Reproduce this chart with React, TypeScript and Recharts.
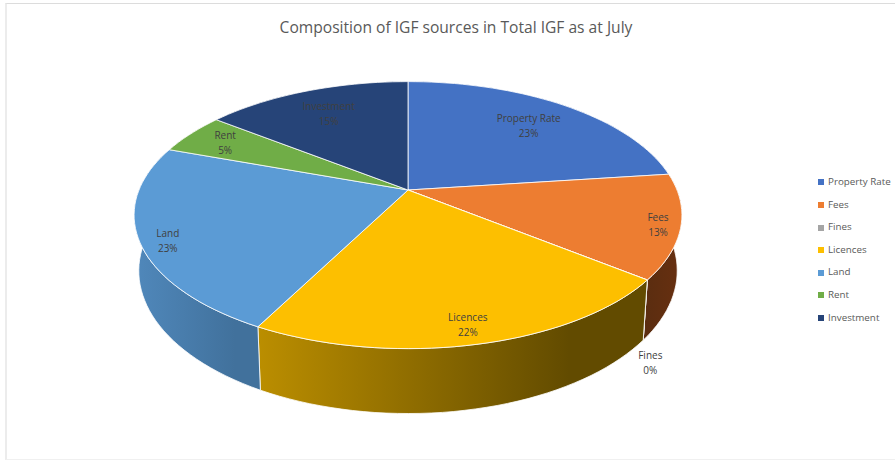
import { PieChart, Pie, Legend } from 'recharts';

const sourceNames = ['Property Rate', 'Fees', 'Fines', 'Licences', 'Land', 'Rent', 'Investment'];
const sharePercent = [23, 12.6, 0, 22.1, 22.7, 5, 14.6];
const sliceColors = ['#4472c4', '#ed7d31', '#a5a5a5', '#fdbf00', '#5b9bd5', '#70ad47', '#264478'];

// side wall shades, left to right, per slice
const wallShades = [
  ['#2f5597', '#2f5597'],
  ['#5a2d10', '#652f10'],
  ['#6e6e6e', '#6e6e6e'],
  ['#bb8e00', '#624b00'],
  ['#5088bb', '#41719c'],
  ['#4e7a32', '#4e7a32'],
  ['#1b3156', '#1b3156'],
];

// how far out each label sits, as a share of the radius, and its nudge in px
const labelReach = [0.75, 0.92, 1, 0.89, 0.9, 0.85, 0.75];
const labelNudgeX = [0, 0, 3, 0, 0, 4, 0];
const labelNudgeY = [1, 1, 82, 0, 5, 0, 0];

const chartData = sourceNames.map((name, i) => ({ name, value: sharePercent[i], fill: sliceColors[i] }));

const FONT = '"Open Sans", "Noto Sans", sans-serif';
const CX = 408;
const CY = 190;
const RADIUS = 269;
const TILT = 128.3 / 268;
const PERSPECTIVE = -0.188;

// tilted disc: unit circle through a perspective divide so the apex sits off centre
function rimPoint(cx: number, cy: number, r: number, angle: number, reach = 1) {
  const rad = (angle * Math.PI) / 180;
  const u = Math.cos(rad) * reach;
  const v = -Math.sin(rad) * reach;
  const w = 1 + PERSPECTIVE * v;
  return { x: cx + (r * u) / w, y: cy + (r * TILT * v) / w };
}

// lower edge of the disc, slightly narrower because of the perspective
function dropPoint(p: { x: number; y: number }, cx: number) {
  return { x: cx + (p.x - cx) * 0.983, y: p.y + 60 + 0.07 * (p.y - 278) };
}

function arcPoints(props: any) {
  const { cx, cy, outerRadius, startAngle, endAngle } = props;
  const pts = [];
  const steps = Math.max(2, Math.ceil(Math.abs(endAngle - startAngle) / 2));
  for (let i = 0; i <= steps; i++) {
    pts.push(rimPoint(cx, cy, outerRadius, startAngle + ((endAngle - startAngle) * i) / steps));
  }
  return pts;
}

const toPath = (pts: { x: number; y: number }[]) =>
  pts.map((p, i) => `${i ? 'L' : 'M'}${p.x.toFixed(1)},${p.y.toFixed(1)}`).join(' ');

function TopFace(props: any) {
  const pts = arcPoints(props);
  return <path d={`M${props.cx},${props.cy} ${toPath(pts).replace('M', 'L')} Z`} fill={props.fill} stroke="#fff" strokeWidth={0.8} />;
}

function SideWall(props: any) {
  const pts = arcPoints(props);
  const lower = pts.map((p) => dropPoint(p, props.cx)).reverse();
  const idx = sourceNames.indexOf(props.name);
  const gradId = `wall-${idx}`;
  return (
    <g>
      <defs>
        <linearGradient id={gradId} x1="0" y1="0" x2="1" y2="0">
          <stop offset="0%" stopColor={wallShades[idx][0]} />
          <stop offset="80%" stopColor={wallShades[idx][1]} />
        </linearGradient>
      </defs>
      <path d={`${toPath(pts)} ${toPath(lower).replace('M', 'L')} Z`} fill={`url(#${gradId})`} stroke="#fff" strokeWidth={0.8} />
    </g>
  );
}

function SliceLabel(props: any) {
  const { cx, cy, outerRadius, midAngle, name, value } = props;
  const idx = sourceNames.indexOf(name);
  const p = rimPoint(cx, cy, outerRadius, midAngle, labelReach[idx]);
  const x = p.x + labelNudgeX[idx];
  const y = p.y + labelNudgeY[idx];
  return (
    <text x={x} y={y} textAnchor="middle" fontFamily={FONT} fontSize={10} fill="#404040">
      <tspan x={x} dy={-3}>{name}</tspan>
      <tspan x={x} dy={15}>{`${Math.round(value)}%`}</tspan>
    </text>
  );
}

export default function App() {
  return (
    <div style={{ position: 'absolute', left: 0, top: 0, width: 895, height: 460, background: '#fff', overflow: 'hidden' }}>
      <div style={{ position: 'absolute', left: 5, top: 3, width: 890, height: 455, borderLeft: '2px solid #ececec', borderTop: '1px solid #dcdcdc', borderBottom: '1px solid #f0f0f0' }} />
      <div style={{ position: 'absolute', left: 0, top: 16, width: 912, textAlign: 'center', fontFamily: FONT, fontSize: 15.6, color: '#595959' }}>
        Composition of IGF sources in Total IGF as at July
      </div>
      <div style={{ position: 'absolute', left: 0, top: 0 }}>
        <PieChart width={895} height={460} margin={{ top: 0, right: 0, bottom: 0, left: 0 }}>
          <Pie
            data={chartData}
            dataKey="value"
            nameKey="name"
            cx={CX}
            cy={CY}
            outerRadius={RADIUS}
            startAngle={90}
            endAngle={-270}
            legendType="none"
            shape={SideWall}
            isAnimationActive={false}
          />
          <Pie
            data={chartData}
            dataKey="value"
            nameKey="name"
            cx={CX}
            cy={CY}
            outerRadius={RADIUS}
            startAngle={90}
            endAngle={-270}
            shape={TopFace}
            label={SliceLabel}
            labelLine={false}
            isAnimationActive={false}
          />
          <Legend
            layout="vertical"
            iconType="square"
            iconSize={6}
            itemSorter={null}
            width={100}
            wrapperStyle={{ position: 'absolute', left: 818, top: 171, whiteSpace: 'nowrap', fontFamily: FONT, fontSize: 9.8, lineHeight: '22.6px' }}
            formatter={(value: string) => <span style={{ color: '#595959' }}>{value}</span>}
          />
        </PieChart>
      </div>
    </div>
  );
}
